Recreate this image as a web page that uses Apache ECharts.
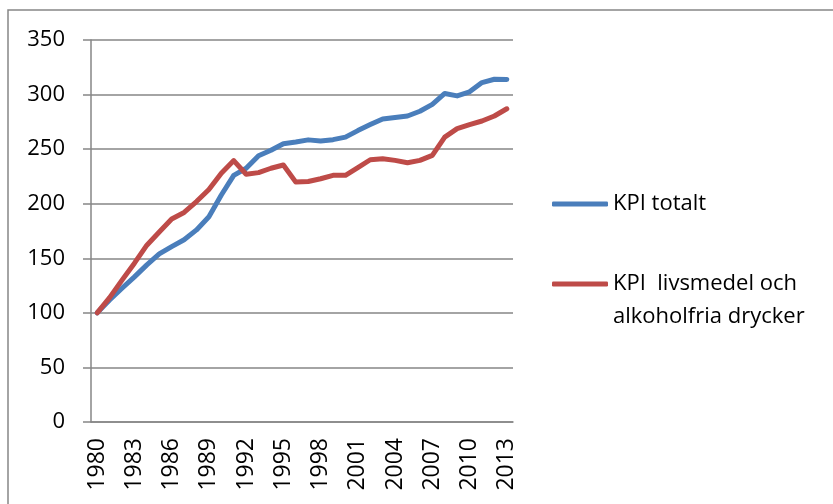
<!DOCTYPE html>
<html>
<head>
<meta charset="utf-8">
<title>KPI</title>
<script src="https://cdn.jsdelivr.net/npm/echarts@6/dist/echarts.min.js"></script>
<style>
  html, body {
    margin: 0;
    padding: 0;
    background: #fff;
  }
  #chart {
    width: 833px;
    height: 504px;
  }
</style>
</head>
<body>
<div id="chart"></div>
<script>
// years on the x axis
const years = [
  1980, 1981, 1982, 1983, 1984, 1985, 1986, 1987, 1988, 1989,
  1990, 1991, 1992, 1993, 1994, 1995, 1996, 1997, 1998, 1999,
  2000, 2001, 2002, 2003, 2004, 2005, 2006, 2007, 2008, 2009,
  2010, 2011, 2012, 2013
]

// KPI totalt
const kpiTotal = [
  100, 111.8, 122.5, 133, 144, 154, 160.7, 167, 176, 188,
  208, 226, 232.5, 244, 249, 255, 256.5, 258.5, 257.5, 258.7,
  261, 267, 272.5, 277.7, 279, 280.4, 284.7, 291, 301, 298.8,
  302.5, 311, 314, 313.8
]

// KPI livsmedel och alkoholfria drycker
const kpiFood = [
  100, 114, 130, 145.5, 162, 174, 186, 192, 202, 213,
  228, 239.5, 227, 228.5, 232.5, 235.5, 219.8, 220.4, 222.9, 226,
  226, 233, 240.3, 241.2, 239.7, 237.6, 239.7, 244.3, 261, 268.8,
  272.5, 275.8, 280.4, 287
]

const seriesNames = ['KPI totalt', 'KPI  livsmedel och alkoholfria drycker']
const yTicks = { min: 0, max: 350, step: 50 }

const font = '"Open Sans", "Noto Sans", sans-serif'
const gray = '#868686'

const chart = echarts.init(document.getElementById('chart'))

const option = {
  animation: false,
  grid: {
    left: 91,
    right: 320,
    top: 40,
    bottom: 82
  },
  legend: {
    orient: 'vertical',
    left: 552,
    top: 189,
    padding: 0,
    itemWidth: 56,
    itemHeight: 5,
    itemGap: 50,
    icon: 'roundRect',
    data: seriesNames,
    // second line of the long name is drawn below as graphic text
    formatter: name => name === seriesNames[1] ? 'KPI  livsmedel och' : name,
    textStyle: {
      fontFamily: font,
      fontSize: 22,
      lineHeight: 30,
      color: '#000'
    }
  },
  graphic: [
    {
      type: 'rect',
      shape: { x: 8, y: 10, width: 900, height: 600 },
      style: { fill: 'none', stroke: gray, lineWidth: 1.5 },
      silent: true
    },
    {
      type: 'text',
      left: 613,
      top: 306,
      style: {
        text: 'alkoholfria drycker',
        font: '22px ' + font,
        fill: '#000'
      }
    }
  ],
  xAxis: {
    type: 'category',
    data: years,
    boundaryGap: true,
    axisLine: { lineStyle: { color: gray, width: 1.5 } },
    axisTick: {
      interval: 0,
      length: 6,
      lineStyle: { color: gray, width: 1.5 }
    },
    axisLabel: {
      interval: 2,
      rotate: 90,
      margin: 16,
      fontFamily: font,
      fontSize: 23,
      color: '#000'
    }
  },
  yAxis: {
    type: 'value',
    min: yTicks.min,
    max: yTicks.max,
    interval: yTicks.step,
    axisLine: { show: true, lineStyle: { color: gray, width: 1.5 } },
    axisTick: { show: true, length: 8, lineStyle: { color: gray, width: 1.5 } },
    splitLine: { lineStyle: { color: gray, width: 1.5 } },
    axisLabel: {
      margin: 26,
      fontFamily: font,
      fontSize: 22,
      color: '#000'
    }
  },
  series: [
    {
      name: seriesNames[0],
      type: 'line',
      data: kpiTotal,
      symbol: 'none',
      lineStyle: { width: 5, color: '#4A7EBB', cap: 'round', join: 'round' },
      itemStyle: { color: '#4A7EBB' }
    },
    {
      name: seriesNames[1],
      type: 'line',
      data: kpiFood,
      symbol: 'none',
      lineStyle: { width: 5, color: '#BE4B48', cap: 'round', join: 'round' },
      itemStyle: { color: '#BE4B48' }
    }
  ]
}

chart.setOption(option)
</script>
</body>
</html>
